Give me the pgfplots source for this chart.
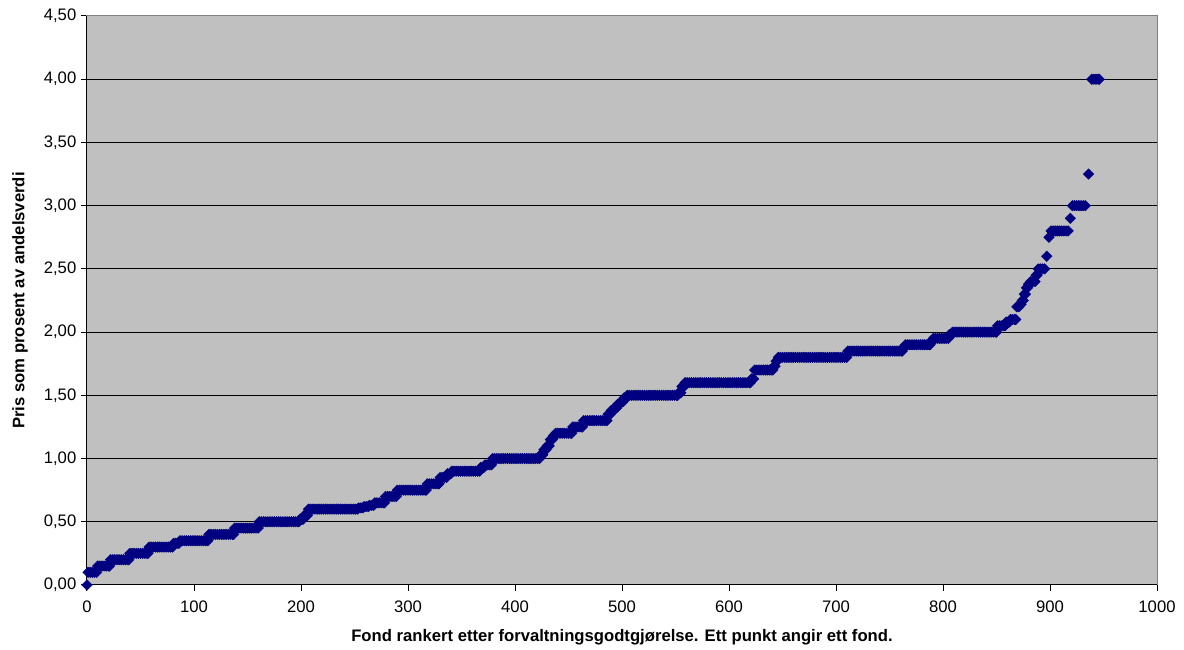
\documentclass[border=0pt]{standalone}
\usepackage{fontspec}
\setmainfont{Liberation Sans}
\usepackage{pgfplots}
\pgfplotsset{compat=1.18}
\definecolor{plotbg}{HTML}{C0C0C0}
\definecolor{navy}{HTML}{000080}
\definecolor{bordergray}{HTML}{808080}
\begin{document}
\begin{tikzpicture}
\begin{axis}[
 name=ax,
 scale only axis,
 width=802.5pt, height=426.75pt,
 xmin=0, xmax=1000, ymin=0, ymax=4.5,
 xtick={0,100,...,1000},
 ytick={0,0.5,1,1.5,2,2.5,3,3.5,4,4.5},
 axis background/.style={fill=plotbg},
 axis line style={draw=bordergray, line width=0.75pt},
 tick align=outside, xtick pos=left, ytick pos=left,
 major tick length=4.5pt,
 tick style={black, line width=0.75pt},
 ymajorgrids, grid style={black, line width=0.75pt},
 font=\fontsize{12.5}{14}\selectfont,
 ticklabel style={font=\fontsize{12.5}{14}\selectfont},
 /pgf/number format/assume math mode=true,
 yticklabel style={/pgf/number format/.cd, fixed, fixed zerofill, precision=2, use comma},
 xticklabel style={yshift=-4pt, /pgf/number format/.cd, 1000 sep={}},
 xlabel={\bfseries Fond rankert etter forvaltningsgodtgjørelse. Ett punkt angir ett fond.},
 ylabel={\bfseries Pris som prosent av andelsverdi},
 xlabel style={at={(axis description cs:0.5,-0.0915)}, anchor=center},
 ylabel style={at={(axis description cs:-0.0626,0.5)}, anchor=center},
 clip=false,
]
\draw[black, line width=0.75pt] (rel axis cs:0,1) -- (rel axis cs:0,0) -- (rel axis cs:1,0);
\addplot[navy, only marks, mark=diamond*, mark size=3.9pt, mark options={draw=none, fill=navy, xscale=1.3333}] coordinates {
(0,0.00)
(1,0.10)(3,0.10)(5,0.10)(7,0.10)(9,0.10)
(10,0.15)(12,0.15)(14,0.15)(16,0.15)(18,0.15)(20,0.15)(21,0.15)
(22,0.20)(24,0.20)(26,0.20)(28,0.20)(30,0.20)(32,0.20)(34,0.20)(36,0.20)(38,0.20)(39,0.20)
(40,0.25)(42,0.25)(44,0.25)(46,0.25)(48,0.25)(50,0.25)(52,0.25)(54,0.25)(56,0.25)(57,0.25)
(58,0.30)(60,0.30)(62,0.30)(64,0.30)(66,0.30)(68,0.30)(70,0.30)(72,0.30)(74,0.30)(76,0.30)(78,0.30)(80,0.30)
(81,0.33)(83,0.33)(85,0.33)(86,0.33)
(87,0.35)(89,0.35)(91,0.35)(93,0.35)(95,0.35)(97,0.35)(99,0.35)(101,0.35)(103,0.35)(105,0.35)(107,0.35)(109,0.35)(111,0.35)(113,0.35)
(114,0.40)(116,0.40)(118,0.40)(120,0.40)(122,0.40)(124,0.40)(126,0.40)(128,0.40)(130,0.40)(132,0.40)(134,0.40)(136,0.40)(137,0.40)
(138,0.45)(140,0.45)(142,0.45)(144,0.45)(146,0.45)(148,0.45)(150,0.45)(152,0.45)(154,0.45)(156,0.45)(158,0.45)(160,0.45)
(161,0.50)(163,0.50)(165,0.50)(167,0.50)(169,0.50)(171,0.50)(173,0.50)(175,0.50)(177,0.50)(179,0.50)(181,0.50)(183,0.50)(185,0.50)(187,0.50)(189,0.50)(191,0.50)(193,0.50)(195,0.50)(197,0.50)(198,0.50)
(199,0.52)(201,0.52)(202,0.52)
(203,0.55)(205,0.55)(206,0.55)
(207,0.60)(209,0.60)(211,0.60)(213,0.60)(215,0.60)(217,0.60)(219,0.60)(221,0.60)(223,0.60)(225,0.60)(227,0.60)(229,0.60)(231,0.60)(233,0.60)(235,0.60)(237,0.60)(239,0.60)(241,0.60)(243,0.60)(245,0.60)(247,0.60)(249,0.60)(251,0.60)(253,0.60)
(254,0.61)(256,0.61)(258,0.61)
(259,0.62)(261,0.62)(263,0.62)
(264,0.63)(266,0.63)(268,0.63)
(269,0.65)(271,0.65)(273,0.65)(275,0.65)(277,0.65)(278,0.65)
(279,0.70)(281,0.70)(283,0.70)(285,0.70)(287,0.70)(289,0.70)
(290,0.75)(292,0.75)(294,0.75)(296,0.75)(298,0.75)(300,0.75)(302,0.75)(304,0.75)(306,0.75)(308,0.75)(310,0.75)(312,0.75)(314,0.75)(316,0.75)(317,0.75)
(318,0.80)(320,0.80)(322,0.80)(324,0.80)(326,0.80)(328,0.80)(329,0.80)
(330,0.85)(332,0.85)(334,0.85)(336,0.85)
(337,0.88)(339,0.88)(340,0.88)
(341,0.90)(343,0.90)(345,0.90)(347,0.90)(349,0.90)(351,0.90)(353,0.90)(355,0.90)(357,0.90)(359,0.90)(361,0.90)(363,0.90)(365,0.90)(367,0.90)
(368,0.93)(370,0.93)(371,0.93)
(372,0.95)(374,0.95)(376,0.95)(378,0.95)
(379,1.00)(381,1.00)(383,1.00)(385,1.00)(387,1.00)(389,1.00)(391,1.00)(393,1.00)(395,1.00)(397,1.00)(399,1.00)(401,1.00)(403,1.00)(405,1.00)(407,1.00)(409,1.00)(411,1.00)(413,1.00)(415,1.00)(417,1.00)(419,1.00)(421,1.00)(423,1.00)
(424,1.03)(426,1.03)
(427,1.07)(429,1.07)
(430,1.10)(432,1.10)
(433,1.15)(435,1.15)
(436,1.18)(437,1.18)
(438,1.20)(440,1.20)(442,1.20)(444,1.20)(446,1.20)(448,1.20)(450,1.20)(452,1.20)(453,1.20)
(454,1.25)(456,1.25)(458,1.25)(460,1.25)(462,1.25)(463,1.25)
(464,1.30)(466,1.30)(468,1.30)(470,1.30)(472,1.30)(474,1.30)(476,1.30)(478,1.30)(480,1.30)(482,1.30)(484,1.30)(486,1.30)
(487,1.35)(489,1.35)
(490,1.38)(492,1.38)
(493,1.40)(495,1.40)
(496,1.43)(498,1.43)
(499,1.45)(501,1.45)
(502,1.48)(504,1.48)
(505,1.50)(507,1.50)(509,1.50)(511,1.50)(513,1.50)(515,1.50)(517,1.50)(519,1.50)(521,1.50)(523,1.50)(525,1.50)(527,1.50)(529,1.50)(531,1.50)(533,1.50)(535,1.50)(537,1.50)(539,1.50)(541,1.50)(543,1.50)(545,1.50)(547,1.50)(549,1.50)(551,1.50)(552,1.50)
(553,1.52)(555,1.52)
(556,1.57)(558,1.57)
(559,1.60)(561,1.60)(563,1.60)(565,1.60)(567,1.60)(569,1.60)(571,1.60)(573,1.60)(575,1.60)(577,1.60)(579,1.60)(581,1.60)(583,1.60)(585,1.60)(587,1.60)(589,1.60)(591,1.60)(593,1.60)(595,1.60)(597,1.60)(599,1.60)(601,1.60)(603,1.60)(605,1.60)(607,1.60)(609,1.60)(611,1.60)(613,1.60)(615,1.60)(617,1.60)(619,1.60)(620,1.60)
(621,1.63)(623,1.63)
(624,1.70)(626,1.70)(628,1.70)(630,1.70)(632,1.70)(634,1.70)(636,1.70)(638,1.70)(640,1.70)(641,1.70)
(642,1.73)(643,1.73)
(644,1.77)(645,1.77)
(646,1.80)(648,1.80)(650,1.80)(652,1.80)(654,1.80)(656,1.80)(658,1.80)(660,1.80)(662,1.80)(664,1.80)(666,1.80)(668,1.80)(670,1.80)(672,1.80)(674,1.80)(676,1.80)(678,1.80)(680,1.80)(682,1.80)(684,1.80)(686,1.80)(688,1.80)(690,1.80)(692,1.80)(694,1.80)(696,1.80)(698,1.80)(700,1.80)(702,1.80)(704,1.80)(706,1.80)(708,1.80)(710,1.80)
(711,1.85)(713,1.85)(715,1.85)(717,1.85)(719,1.85)(721,1.85)(723,1.85)(725,1.85)(727,1.85)(729,1.85)(731,1.85)(733,1.85)(735,1.85)(737,1.85)(739,1.85)(741,1.85)(743,1.85)(745,1.85)(747,1.85)(749,1.85)(751,1.85)(753,1.85)(755,1.85)(757,1.85)(759,1.85)(761,1.85)(762,1.85)
(763,1.88)(764,1.88)
(765,1.90)(767,1.90)(769,1.90)(771,1.90)(773,1.90)(775,1.90)(777,1.90)(779,1.90)(781,1.90)(783,1.90)(785,1.90)(787,1.90)(788,1.90)
(789,1.93)(790,1.93)
(791,1.95)(793,1.95)(795,1.95)(797,1.95)(799,1.95)(801,1.95)(803,1.95)(805,1.95)
(806,1.98)(808,1.98)
(809,2.00)(811,2.00)(813,2.00)(815,2.00)(817,2.00)(819,2.00)(821,2.00)(823,2.00)(825,2.00)(827,2.00)(829,2.00)(831,2.00)(833,2.00)(835,2.00)(837,2.00)(839,2.00)(841,2.00)(843,2.00)(845,2.00)(847,2.00)(849,2.00)(850,2.00)
(851,2.05)(853,2.05)(855,2.05)(857,2.05)(858,2.05)
(859,2.08)(861,2.08)(862,2.08)
(863,2.10)(865,2.10)(867,2.10)(868,2.10)
(869,2.20)(871,2.20)
(872,2.22)(873,2.22)
(874,2.25)(875,2.25)
(876,2.30)(877,2.30)
(878,2.35)(879,2.35)
(880,2.38)(881,2.38)
(882,2.40)(884,2.40)(886,2.40)
(887,2.45)(888,2.45)
(889,2.50)(891,2.50)(893,2.50)(895,2.50)
(897,2.60)
(899,2.75)
(901,2.80)(903,2.80)(905,2.80)(907,2.80)(909,2.80)(911,2.80)(913,2.80)(915,2.80)(917,2.80)
(919,2.90)
(921,3.00)(923,3.00)(925,3.00)(927,3.00)(929,3.00)(931,3.00)(933,3.00)
(936,3.25)
(939,4.00)(941,4.00)(943,4.00)(945,4.00)(946,4.00)
};
\end{axis}
\path ([shift={(-65.25pt,-48.75pt)}]ax.south west) rectangle ([shift={(20.25pt,12pt)}]ax.north east);
\end{tikzpicture}
\end{document}
